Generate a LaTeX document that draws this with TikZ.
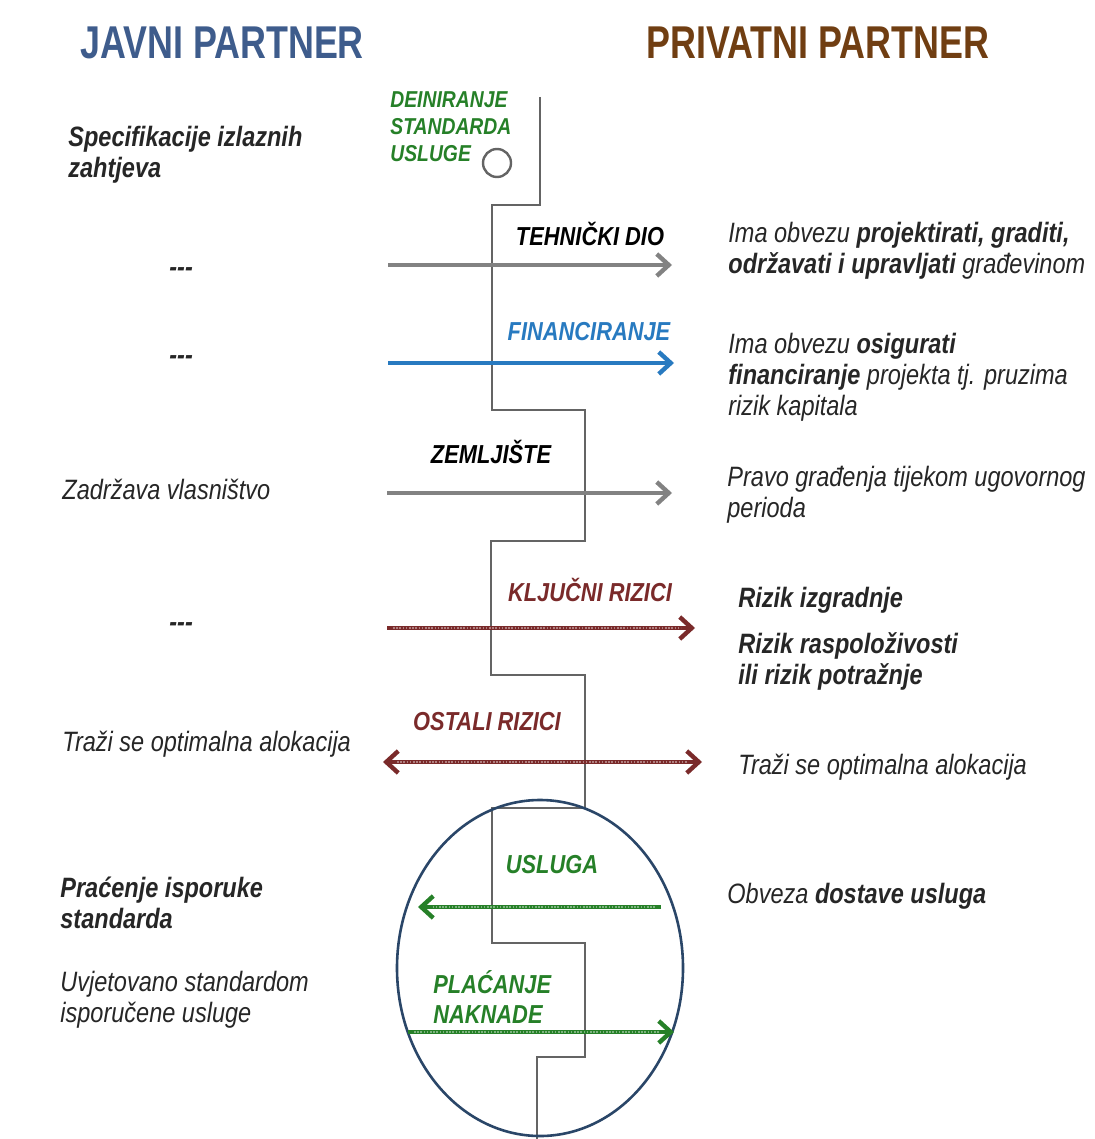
\documentclass[tikz,border=0pt]{standalone}
\usepackage{fontspec}
\usepackage{xcolor}
\usepackage{tikz}
\usetikzlibrary{arrows.meta,positioning,shapes.geometric}
\setmainfont{Liberation Sans}[FakeStretch=0.84]
\newfontfamily\titlefont{Liberation Sans}[FakeStretch=0.78]
\definecolor{javniblue}{RGB}{62,92,140}
\definecolor{privbrown}{RGB}{112,62,18}
\definecolor{uslgreen}{RGB}{38,128,40}
\definecolor{finblue}{RGB}{40,122,192}
\definecolor{rizikred}{RGB}{122,42,42}
\definecolor{arrowgray}{RGB}{130,130,130}
\definecolor{stepgray}{RGB}{100,100,100}
\definecolor{ovalblue}{RGB}{42,70,104}

\begin{document}
\begin{tikzpicture}[x=0.5pt, y=-0.5pt]
% Define styles
\tikzstyle{title} = [inner sep=0pt, font=\titlefont\bfseries\fontsize{23}{26}\selectfont]
\tikzstyle{side} = [anchor=west, align=left, inner sep=0pt, font=\itshape\fontsize{14}{15.5}\selectfont, text=black!85]
\tikzstyle{sidebold} = [side, font=\bfseries\itshape\fontsize{14}{15.5}\selectfont]
\tikzstyle{flowlabel} = [inner sep=0pt, font=\bfseries\itshape\fontsize{13}{15}\selectfont]
\tikzstyle{arrow} = [line width=2.2pt, -{Straight Barb[length=6pt, width=11pt]}]
\tikzstyle{rough} = [postaction={draw, -, white, opacity=0.4, line width=1pt, dash pattern=on 0.8pt off 0.8pt, shorten >=7pt, shorten <=3pt}]
\tikzstyle{stepline} = [draw=stepgray, line width=1.3pt]

\useasboundingbox (0,0) rectangle (1094,1139);

% Place nodes
\node[title, text=javniblue] (javni) at (222,43) {JAVNI PARTNER};
\node[title, text=privbrown] (privatni) at (818,43) {PRIVATNI PARTNER};

\node[anchor=west, align=left, inner sep=0pt, text=uslgreen, font=\bfseries\itshape\fontsize{11.5}{13.5}\selectfont] (standard) at (390,127) {DEINIRANJE\\STANDARDA\\USLUGE};
\node[circle, draw=stepgray, line width=1.2pt, minimum size=14pt, inner sep=0pt] (krugic) at (497,163) {};

% left side
\node[sidebold] (specifikacije) at (68,155) {Specifikacije izlaznih\\zahtjeva};
\node[sidebold] (crta1) at (169,272) {-{}-{}-};
\node[sidebold] (crta2) at (169,360) {-{}-{}-};
\node[side] (vlasnistvo) at (62,489) {Zadržava vlasništvo};
\node[sidebold] (crta3) at (169,627) {-{}-{}-};
\node[side] (alokacijaL) at (62,744) {Traži se optimalna alokacija};
\node[sidebold] (pracenje) at (60,903) {Praćenje isporuke\\standarda};
\node[side] (uvjetovano) at (60,1000) {Uvjetovano standardom\\isporučene usluge};

% right side
\node[side] (obveza1) at (728,251) {Ima obvezu \textbf{projektirati, graditi,}\\\textbf{održavati i upravljati} građevinom};
\node[side] (obveza2) at (728,377) {Ima obvezu \textbf{osigurati}\\\textbf{financiranje} projekta tj. pruzima\\rizik kapitala};
\node[side] (pravo) at (727,495) {Pravo građenja tijekom ugovornog\\perioda};
\node[sidebold] (izgradnja) at (738,600) {Rizik izgradnje};
\node[sidebold] (raspolozivost) at (738,661) {Rizik raspoloživosti\\ili rizik potražnje};
\node[side] (alokacijaR) at (738,767) {Traži se optimalna alokacija};
\node[side] (dostava) at (727,896) {Obveza \textbf{dostave usluga}};

% middle labels
\node[flowlabel] (tehnicki) at (590,234) {TEHNIČKI DIO};
\node[flowlabel, text=finblue] (financiranje) at (589,332) {FINANCIRANJE};
\node[flowlabel] (zemljiste) at (491,452) {ZEMLJIŠTE};
\node[flowlabel, text=rizikred] (kljucni) at (590,590) {KLJUČNI RIZICI};
\node[flowlabel, text=rizikred] (ostali) at (487,722) {OSTALI RIZICI};
\node[flowlabel, text=uslgreen] (usluga) at (552,865) {USLUGA};
\node[flowlabel, anchor=west, align=left, text=uslgreen] (placanje) at (433,997) {PLAĆANJE\\NAKNADE};

% step line and oval
\draw[stepline] (540,97) -- (540,205) -- (492,205) -- (492,410) -- (585,410) -- (585,541)
  -- (491,541) -- (491,675) -- (585,675) -- (585,808) -- (492,808) -- (492,943)
  -- (585,943) -- (585,1057) -- (537,1057) -- (537,1139);
\node[ellipse, draw=ovalblue, line width=1.3pt, minimum width=143pt, minimum height=168pt, inner sep=0pt] (krug) at (540,968) {};

% arrow ends
\coordinate (t1) at (388,265); \coordinate (t2) at (672,265);
\coordinate (f1) at (388,363); \coordinate (f2) at (674,363);
\coordinate (z1) at (387,493); \coordinate (z2) at (672,493);
\coordinate (k1) at (387,628); \coordinate (k2) at (695,628);
\coordinate (o1) at (383,762); \coordinate (o2) at (702,762);
\coordinate (u1) at (661,907); \coordinate (u2) at (418,907);
\coordinate (p1) at (408,1032); \coordinate (p2) at (674,1032);

% Draw arrows
\draw[arrow, arrowgray] (t1) -- (t2);
\draw[arrow, finblue] (f1) -- (f2);
\draw[arrow, arrowgray] (z1) -- (z2);
\draw[arrow, rizikred, rough] (k1) -- (k2);
\draw[arrow, rizikred, {Straight Barb[length=6pt, width=11pt]}-{Straight Barb[length=6pt, width=11pt]}, postaction={draw, -, white, opacity=0.4, line width=1pt, dash pattern=on 0.8pt off 0.8pt, shorten >=7pt, shorten <=7pt}] (o1) -- (o2);
\draw[arrow, uslgreen, rough] (u1) -- (u2);
\draw[arrow, uslgreen, rough] (p1) -- (p2);
\end{tikzpicture}
\end{document}
